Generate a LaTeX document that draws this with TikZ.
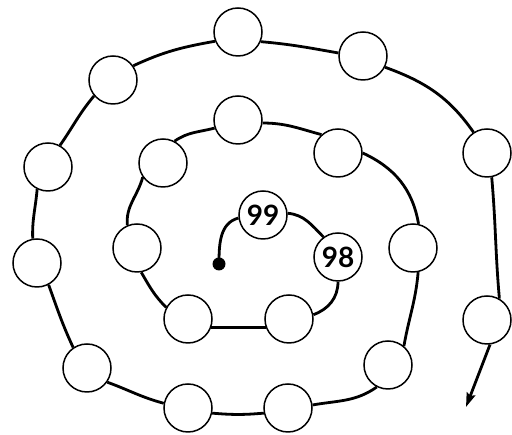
\documentclass[tikz,border=0pt]{standalone}
\usepackage{fontspec}
\newfontfamily\numfont{Lato}
\usepackage{tikz}
\usetikzlibrary{arrows.meta}

\begin{document}
\begin{tikzpicture}[
x=1pt, y=1pt,
spot/.style={circle, draw, line width=1.5pt, fill=white, minimum size=48pt, inner sep=0pt, font=\numfont\bfseries\fontsize{28}{28}\selectfont},
dot/.style={circle, fill, minimum size=13pt, inner sep=0pt},
trail/.style={line width=2.8pt},
arr/.style={-{Stealth[length=14pt, width=9pt, inset=2pt]}, line width=2.8pt}
]
\useasboundingbox (0,0) rectangle (512,435);

\node[dot] (start) at (219,171) {};
\node[spot] (n99) at (263,220) {99};
\node[spot] (n98) at (338,178) {98};
\node[spot] (a1) at (289,116) {};
\node[spot] (a2) at (188,116) {};
\node[spot] (a3) at (137,187) {};
\node[spot] (a4) at (163,272) {};
\node[spot] (a5) at (238,315) {};
\node[spot] (a6) at (338,282) {};
\node[spot] (a7) at (413,187) {};
\node[spot] (a8) at (388,70) {};
\node[spot] (a9) at (288,27) {};
\node[spot] (a10) at (188,27) {};
\node[spot] (a11) at (87,67) {};
\node[spot] (a12) at (37,172) {};
\node[spot] (a13) at (48,268) {};
\node[spot] (a14) at (113,355) {};
\node[spot] (a15) at (238,403) {};
\node[spot] (a16) at (363,379) {};
\node[spot] (a17) at (487,282) {};
\node[spot] (a18) at (487,115) {};
\coordinate (tip) at (466,28);

\draw[trail] (start.center) to[out=90, in=195] (n99.187);
\draw[trail] (n99.4) to[out=-5, in=135] (n98.126);
\draw[trail] (n98.-90) to[out=-90, in=20] (a1.10);
\draw[trail] (a1.201) -- (a2.339);
\draw[trail] (a2.152) to[out=135, in=-60] (a3.-80);
\draw[trail] (a3.113) to[out=95, in=-105] (a4.215);
\draw[trail] (a4.62) to[out=35, in=195] (a5.199);
\draw[trail] (a5.-7) to[out=0, in=165] (a6.132);
\draw[trail] (a6.0) to[out=-25, in=100] (a7.77);
\draw[trail] (a7.-78) to[out=-95, in=80] (a8.50);
\draw[trail] (a8.243) to[out=-145, in=10] (a9.7);
\draw[trail] (a9.192) to[out=185, in=-5] (a10.348);
\draw[trail] (a10.169) to[out=165, in=-20] (a11.-35);
\draw[trail] (a11.124) to[out=115, in=-70] (a12.-62);
\draw[trail] (a12.100) to[out=92, in=-95] (a13.244);
\draw[trail] (a13.61) to[out=55, in=-130] (a14.220);
\draw[trail] (a14.35) to[out=25, in=190] (a15.202);
\draw[trail] (a15.-23) to[out=-5, in=170] (a16.173);
\draw[trail] (a16.-27) to[out=-20, in=125] (a17.123);
\draw[trail] (a17.-79) to[out=-85, in=95] (a18.60);
\draw[arr] (a18.-83) -- (tip);
\end{tikzpicture}
\end{document}
